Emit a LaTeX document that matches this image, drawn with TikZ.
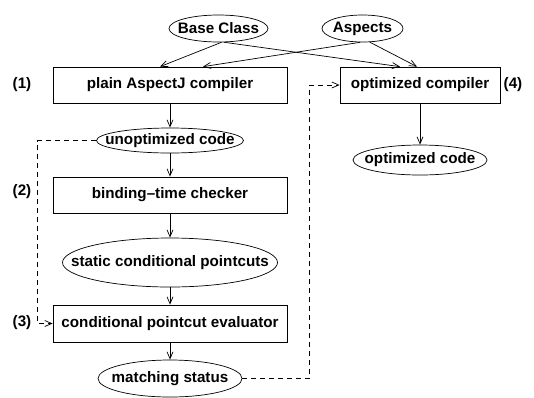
\documentclass[tikz,border=0pt]{standalone}
\usepackage{fontspec}
\setmainfont{Liberation Sans}
\usetikzlibrary{arrows.meta,shapes.geometric}

\newcommand{\ovaltext}[1]{\makebox[0pt]{#1}}

\tikzset{
  box/.style={draw, rectangle, inner sep=0pt, minimum height=36pt},
  blob/.style={draw, ellipse, inner sep=0pt},
  flow/.style={-{Straight Barb[length=7pt,width=6pt]}},
  back/.style={flow, dash pattern=on 5pt off 4pt},
}

\begin{document}
\begin{tikzpicture}[x=1pt, y=-1pt, line width=0.7pt,
    font=\fontsize{15.2}{17}\selectfont\bfseries]
    \useasboundingbox (0,0) rectangle (534,397);
    \node[blob, minimum width=99pt, minimum height=27pt] (base) at (218.5,28.5) {\ovaltext{Base Class}};
    \node[blob, minimum width=81pt, minimum height=27pt] (asp) at (362.5,28.5) {\ovaltext{Aspects}};
    \node[box, minimum width=234pt] (plain) at (170,85) {plain AspectJ compiler};
    \node[box, minimum width=160pt] (optc) at (420,85) {optimized compiler};
    \node[blob, minimum width=147pt, minimum height=25pt] (uncode) at (170,140.5) {\ovaltext{unoptimized code}};
    \node[blob, minimum width=134pt, minimum height=30pt] (optcode) at (420,160) {\ovaltext{optimized code}};
    \node[box, minimum width=234pt] (check) at (170,195) {binding--time checker};
    \node[blob, minimum width=215pt, minimum height=49pt] (static) at (170,262.5) {\ovaltext{static conditional pointcuts}};
    \node[box, minimum width=234pt, minimum height=37pt] (eval) at (170,323.5) {conditional pointcut evaluator};
    \node[blob, minimum width=144pt, minimum height=37pt] (status) at (170,378.5) {\ovaltext{matching status}};
    \node (n1) at (22,85) {(1)};
    \node (n2) at (22,192) {(2)};
    \node (n3) at (22,323) {(3)};
    \node (n4) at (513,85) {(4)};
    \draw[flow] (base.-78) -- ([xshift=-10pt]plain.north);
    \draw[flow] (base.-68) -- ([xshift=-20pt]optc.north);
    \draw[flow] (asp.-100) -- ([xshift=33pt]plain.north);
    \draw[flow] (asp.-62) -- ([xshift=-3pt]optc.north);
    \draw[flow] (plain) -- (uncode);
    \draw[flow] (uncode) -- (check);
    \draw[flow] (check) -- (static);
    \draw[flow] (static) -- (eval);
    \draw[flow] (eval) -- (status);
    \draw[flow] (optc) -- (optcode);
    \draw[back] (uncode.west) -| ([xshift=-15pt]eval.west) -- (eval.west);
    \draw[back] (status.east) -| ([xshift=-30pt]optc.west) -- (optc.west);
  \end{tikzpicture}
\end{document}
